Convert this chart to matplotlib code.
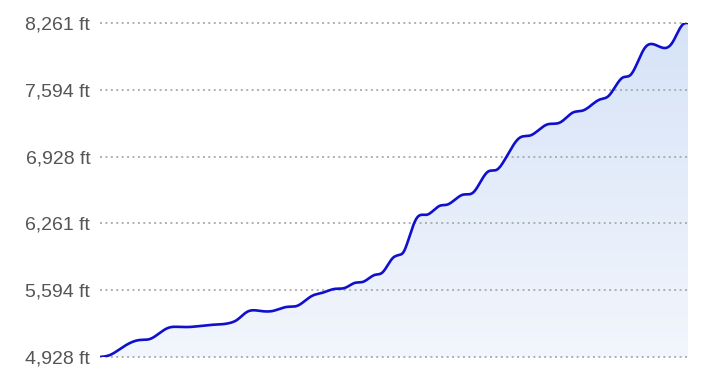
import numpy as np
import matplotlib
matplotlib.use("Agg")
import matplotlib.pyplot as plt
from matplotlib.patches import Polygon

# distance (relative units along route) and elevation (ft)
distance = [0, 10, 20, 30, 40, 50, 57, 68, 80, 90, 110, 130, 137, 147, 160, 173,
            187, 197, 212, 222, 235, 245, 255, 263, 275, 282, 293, 300, 303, 310,
            317, 327, 340, 347, 363, 373, 388, 397, 403, 420, 430, 447, 460, 473,
            483, 500, 508, 523, 530, 545, 553, 568, 572, 583, 588]
elev = [4928, 4948, 5008, 5068, 5098, 5108, 5148, 5218, 5228, 5228, 5248, 5268,
        5298, 5378, 5388, 5388, 5428, 5438, 5538, 5568, 5608, 5618, 5668, 5678,
        5748, 5768, 5918, 5948, 5968, 6148, 6318, 6348, 6438, 6448, 6548, 6568,
        6778, 6798, 6868, 7118, 7138, 7248, 7268, 7368, 7388, 7498, 7528, 7718,
        7738, 8015, 8050, 8020, 8060, 8248, 8261]
yticks = [4928, 5594, 6261, 6928, 7594, 8261]
ytick_labels = ["4,928 ft", "5,594 ft", "6,261 ft", "6,928 ft", "7,594 ft", "8,261 ft"]


def natural_spline(x, y, n=2000):
    x = np.asarray(x, float); y = np.asarray(y, float)
    k = len(x)
    h = np.diff(x)
    A = np.zeros((k, k)); b = np.zeros(k)
    A[0, 0] = 1; A[-1, -1] = 1
    for i in range(1, k - 1):
        A[i, i - 1] = h[i - 1]
        A[i, i] = 2 * (h[i - 1] + h[i])
        A[i, i + 1] = h[i]
        b[i] = 6 * ((y[i + 1] - y[i]) / h[i] - (y[i] - y[i - 1]) / h[i - 1])
    M = np.linalg.solve(A, b)
    xs = np.linspace(x[0], x[-1], n)
    idx = np.clip(np.searchsorted(x, xs) - 1, 0, k - 2)
    x0, x1 = x[idx], x[idx + 1]
    hh = x1 - x0
    a = (x1 - xs) / hh; c = (xs - x0) / hh
    ys = (a * y[idx] + c * y[idx + 1] +
          ((a ** 3 - a) * M[idx] + (c ** 3 - c) * M[idx + 1]) * hh ** 2 / 6)
    return xs, ys


plt.rcParams['font.family'] = ['Liberation Sans', 'DejaVu Sans']
fig = plt.figure(figsize=(7.02, 3.74), dpi=100)
ax = fig.add_axes([100 / 702, (374 - 357) / 374, 588 / 702, 334 / 374])

sx, sy = natural_spline(distance, elev)
ymin, ymax = yticks[0], yticks[-1]
ax.set_xlim(distance[0], distance[-1])
ax.set_ylim(ymin, ymax)

# gradient fill
grad = np.linspace(0, 1, 256).reshape(-1, 1)
top = np.array([0.84, 0.89, 0.97])
bot = np.array([0.95, 0.965, 0.99])
img = (bot + (top - bot) * grad).reshape(256, 1, 3)
im = ax.imshow(img, extent=[distance[0], distance[-1], ymin, ymax], origin='lower',
               aspect='auto', zorder=1)
poly = Polygon(np.column_stack([np.concatenate([[sx[0]], sx, [sx[-1]]]),
                                np.concatenate([[ymin], sy, [ymin]])]),
               closed=True, facecolor='none', edgecolor='none')
ax.add_patch(poly)
im.set_clip_path(poly)

for v in yticks:
    ax.axhline(v, color='#aaaaaa', lw=1.3, ls=(0, (1.1, 1.9)), zorder=2, clip_on=False)

ax.plot(sx, sy, color='#1010cc', lw=1.9, zorder=3, solid_capstyle='round')

ax.set_yticks(yticks)
ax.set_yticklabels(ytick_labels)
ax.tick_params(axis='y', length=0, pad=7, labelsize=14, labelcolor='#555555')
ax.set_xticks([])
for s in ax.spines.values():
    s.set_visible(False)

fig.savefig("out.png", dpi=100)
